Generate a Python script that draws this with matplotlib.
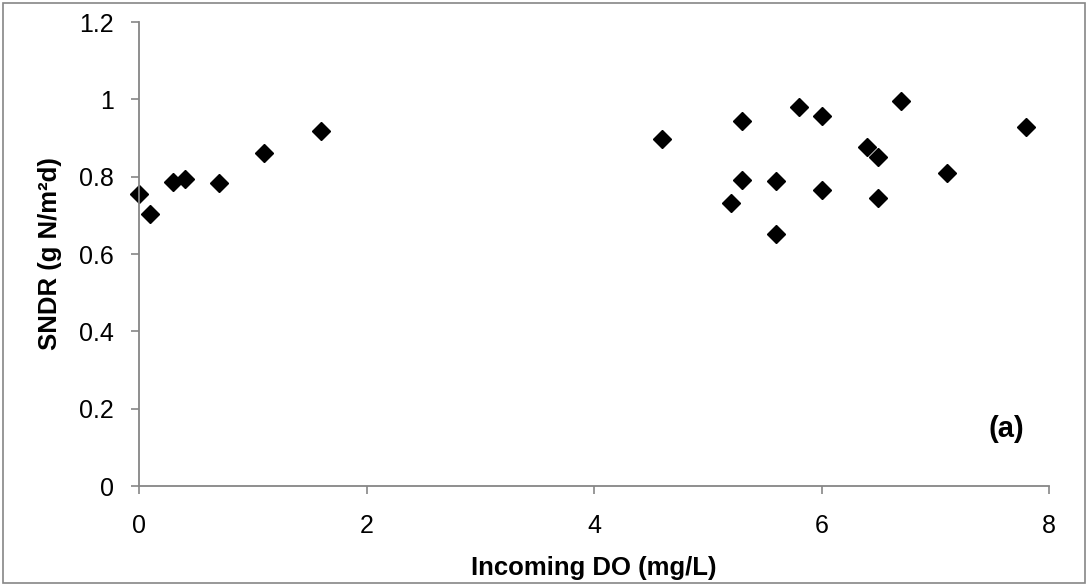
import matplotlib
matplotlib.use("Agg")
import matplotlib.pyplot as plt
from matplotlib.patches import Rectangle

plt.rcParams['font.family'] = ['Liberation Sans', 'DejaVu Sans']

# Incoming dissolved oxygen (mg/L) and SNDR (g N/m2d)
incoming_do = [0.0, 0.1, 0.3, 0.4, 0.7, 1.1, 1.6,
               4.6, 5.2, 5.3, 5.3, 5.6, 5.6, 5.8, 6.0, 6.0,
               6.4, 6.5, 6.5, 6.7, 7.1, 7.8]
sndr = [0.755, 0.703, 0.787, 0.793, 0.783, 0.862, 0.919,
        0.897, 0.732, 0.945, 0.791, 0.789, 0.652, 0.980, 0.957, 0.765,
        0.878, 0.852, 0.744, 0.996, 0.809, 0.928]

x_ticks = [0, 2, 4, 6, 8]
y_ticks = [0, 0.2, 0.4, 0.6, 0.8, 1.0, 1.2]
y_tick_labels = ["0", "0.2", "0.4", "0.6", "0.8", "1", "1.2"]

fig = plt.figure(figsize=(10.88, 5.86), dpi=100)
ax = fig.add_axes([139 / 1088, 1 - 486 / 586, (1049 - 139) / 1088, (486 - 22) / 586])

ax.plot(incoming_do, sndr, linestyle='none', marker='D', markersize=9.2,
        color='black', clip_on=False)

ax.set_xlim(0, 8)
ax.set_ylim(0, 1.2)
ax.set_xticks(x_ticks)
ax.set_xticklabels([str(t) for t in x_ticks])
ax.set_yticks(y_ticks)
ax.set_yticklabels(y_tick_labels)

grey = '#868686'
for side in ('top', 'right'):
    ax.spines[side].set_visible(False)
for side in ('left', 'bottom'):
    ax.spines[side].set_color(grey)
    ax.spines[side].set_linewidth(1.3)

ax.tick_params(axis='both', direction='out', length=6, width=1.2, color=grey,
               labelsize=18, labelcolor='black')
ax.tick_params(axis='x', pad=14)
ax.tick_params(axis='y', pad=12)

ax.set_xlabel('Incoming DO (mg/L)', fontsize=18.5, fontweight='bold', labelpad=13)
ax.set_ylabel('SNDR (g N/m²d)', fontsize=18.5, fontweight='bold', labelpad=12)

ax.text(0.9725, 0.123, '(a)', transform=ax.transAxes, fontsize=21,
        fontweight='bold', ha='right', va='center')

fig.patches.append(Rectangle((3 / 1088, 3 / 586), 1082 / 1088, 580 / 586,
                             transform=fig.transFigure, fill=False,
                             edgecolor=grey, linewidth=1.2))

fig.savefig('out.png', dpi=100)
